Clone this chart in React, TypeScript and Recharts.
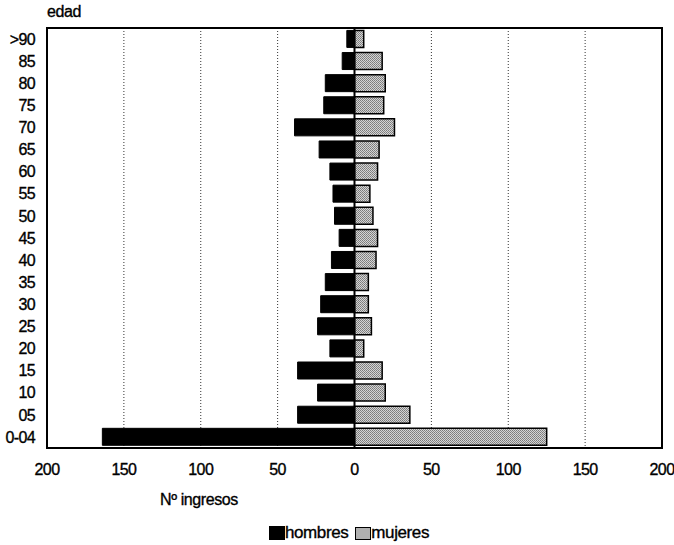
import { Bar, BarChart, CartesianGrid, ReferenceArea, ReferenceLine, XAxis, YAxis } from "recharts";

// grupos de edad, de abajo (0-04) hacia arriba (>90)
const edades = ["0-04", "05", "10", "15", "20", "25", "30", "35", "40", "45", "50", "55", "60", "65", "70", "75", "80", "85", ">90"];
const hombres = [164, 37, 24, 37, 16, 24, 22, 19, 15, 10, 13, 14, 16, 23, 39, 20, 19, 8, 5];
const mujeres = [125, 36, 20, 18, 6, 11, 9, 9, 14, 15, 12, 10, 15, 16, 26, 19, 20, 18, 6];
const xTicks = [-200, -150, -100, -50, 0, 50, 100, 150, 200];

// hombres a la izquierda (negativos), mujeres a la derecha
const data = edades.map((edad, i) => ({ edad, hombres: -hombres[i], mujeres: mujeres[i] }));

const font = "'Liberation Sans', Arial, sans-serif";
const tickStyle = { fill: "#000", stroke: "#000", strokeWidth: 0.35, fontSize: 16, fontFamily: font, letterSpacing: -0.6 };
const htmlText = { fontSize: 16, letterSpacing: -0.4, WebkitTextStroke: "0.35px #000" };

export default function App() {
  return (
    <div style={{ position: "absolute", left: 0, top: 0, width: 674, height: 545, background: "#fff", fontFamily: font }}>
      <div style={{ position: "absolute", left: 47, top: 3, ...htmlText }}>edad</div>
      <BarChart
        width={674}
        height={545}
        data={data}
        layout="vertical"
        stackOffset="sign"
        barCategoryGap="11%"
        margin={{ top: 28, right: 12, left: 0, bottom: 0 }}
      >
        <defs>
          <pattern id="trama" width="2" height="2" patternUnits="userSpaceOnUse">
            <rect width="2" height="2" fill="#d4d4d4" />
            <rect width="1" height="1" fill="#7a7a7a" />
            <rect x="1" y="1" width="1" height="1" fill="#888" />
          </pattern>
        </defs>
        <CartesianGrid horizontal={false} strokeDasharray="1 2" stroke="#333" />
        <XAxis
          type="number"
          domain={[-200, 200]}
          ticks={xTicks}
          tickFormatter={(v: number) => String(Math.abs(v))}
          tick={tickStyle}
          tickLine={false}
          axisLine={false}
          tickSize={0}
          tickMargin={16}
          height={97}
        />
        <YAxis
          type="category"
          dataKey="edad"
          reversed
          width={47}
          tick={tickStyle}
          tickLine={false}
          axisLine={false}
          tickSize={0}
          tickMargin={12}
          interval={0}
        />
        <Bar dataKey="hombres" stackId="a" fill="#000" stroke="#000" strokeWidth={1} isAnimationActive={false} />
        <Bar dataKey="mujeres" stackId="a" fill="url(#trama)" stroke="#000" strokeWidth={1.5} isAnimationActive={false} />
        <ReferenceLine x={0} stroke="#000" strokeWidth={2} />
        <ReferenceArea x1={-200} x2={200} fill="none" stroke="#000" strokeWidth={2} />
      </BarChart>
      <div style={{ position: "absolute", left: 160, top: 491, ...htmlText }}>Nº ingresos</div>
      <div style={{ position: "absolute", left: 269, top: 523, ...htmlText, fontSize: 17, display: "flex", alignItems: "center" }}>
        <span style={{ display: "inline-block", width: 16, height: 14, background: "#000" }} />
        <span>hombres</span>
        <span style={{ display: "inline-block", width: 16, height: 13, marginLeft: 7, border: "1.5px solid #000", boxSizing: "border-box", background: "#b0b0b0" }} />
        <span>mujeres</span>
      </div>
    </div>
  );
}
